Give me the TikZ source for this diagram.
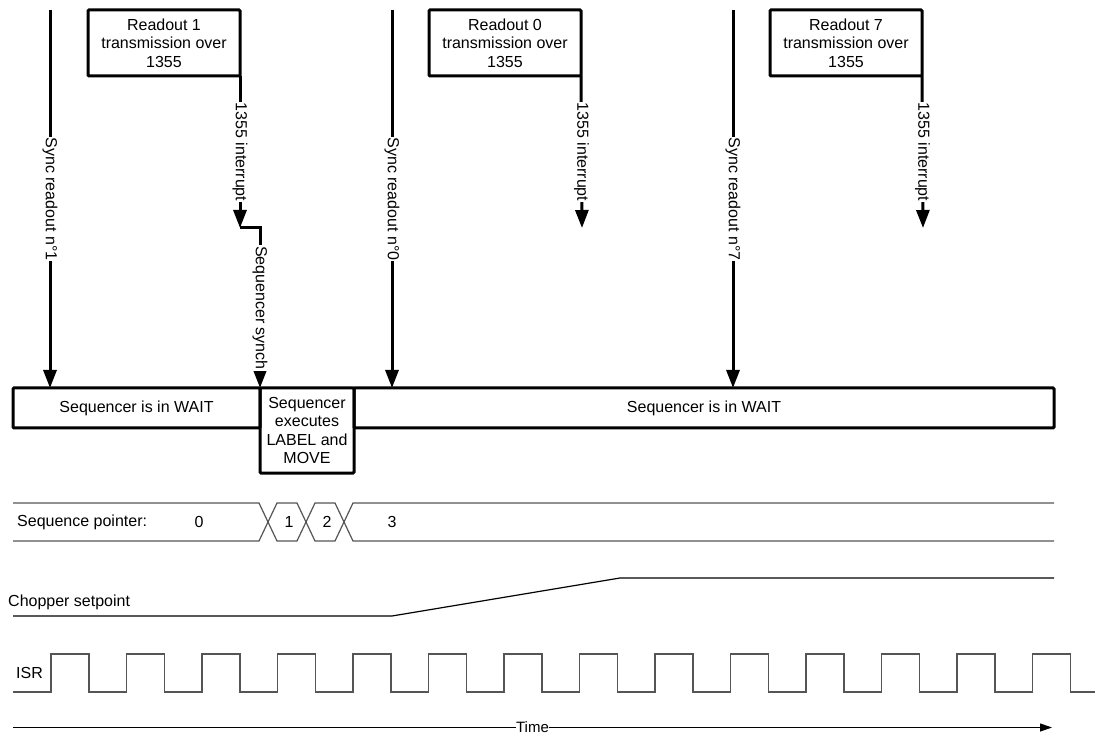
\documentclass[tikz,border=0pt]{standalone}
\usepackage{fontspec}
\setmainfont{Liberation Sans}
\usetikzlibrary{arrows.meta,positioning,calc}
\definecolor{buscol}{RGB}{85,85,85}
\newcommand\diagfont{\fontsize{16}{18.5}\selectfont}
\tikzset{
  rbox/.style={draw, line width=3pt, rounded corners=1pt, minimum width=152pt, minimum height=66pt,
               inner sep=0pt, outer sep=0pt, align=center, font=\diagfont},
  sbox/.style={draw, line width=3pt, rounded corners=1pt, minimum height=40pt,
               inner sep=0pt, outer sep=0pt, align=center, font=\diagfont},
  sig/.style={-{Triangle[length=18pt,width=13pt]}, line width=3pt},
  vlbl/.style={rotate=-90, fill=white, inner sep=1pt, font=\diagfont},
  txt/.style={inner sep=0pt, font=\diagfont},
  bus/.style={draw=buscol, line width=1.2pt},
  wave/.style={draw=buscol, line width=1.2pt},
  timeline/.style={-{Triangle[length=12pt,width=8pt]}, line width=1.2pt},
}
\begin{document}
\begin{tikzpicture}[x=1pt, y=-1pt]
  \useasboundingbox (0,0) rectangle (1096,735);
  % readout transmissions
  \node[rbox] (rd1) at (164,43) {Readout 1\\transmission over\\1355};
  \node[rbox] (rd0) at (505,43) {Readout 0\\transmission over\\1355};
  \node[rbox] (rd7) at (846,43) {Readout 7\\transmission over\\1355};
  % sequencer states
  \node[sbox, minimum width=247pt] (wait1) at (136.5,408) {Sequencer is in WAIT};
  \node[sbox, minimum width=94pt, minimum height=85pt] (exec) at (307,430.5) {Sequencer\\executes\\LABEL and\\MOVE};
  \node[sbox, minimum width=700pt] (wait2) at (704,408) {Sequencer is in WAIT};
  % sync readouts
  \coordinate (s1) at (50,10);
  \coordinate (s0) at (392,10);
  \coordinate (s7) at (733,10);
  \draw[sig] (s1) -- node[vlbl] {Sync readout n°1} (s1 |- wait1.north);
  \draw[sig] (s0) -- node[vlbl] {Sync readout n°0} (s0 |- wait2.north);
  \draw[sig] (s7) -- node[vlbl] {Sync readout n°7} (s7 |- wait2.north);
  % 1355 interrupts
  \coordinate (i1) at (240,228);
  \coordinate (i0) at (582,228);
  \coordinate (i7) at (923,228);
  \draw[sig] (rd1.south east) -- node[vlbl] {1355 interrupt} (i1);
  \draw[sig] (rd0.south east) -- node[vlbl] {1355 interrupt} (i0);
  \draw[sig] (rd7.south east) -- node[vlbl] {1355 interrupt} (i7);
  \draw[sig] (i1) -- ++(20,0) -- node[vlbl] {Sequencer synch} (exec.north west);
  % sequence pointer
  \draw[bus] (13,503) -- (259,503) -- (277,541) -- (297,541) -- (315,503) -- (335,503) -- (353,541) -- (1054,541);
  \draw[bus] (13,541) -- (259,541) -- (277,503) -- (297,503) -- (315,541) -- (335,541) -- (353,503) -- (1054,503);
  \node[txt, anchor=west] (seqlbl) at (17,522) {Sequence pointer:};
  \node[txt] (p0) at (199,522) {0};
  \node[txt] (p1) at (289,522) {1};
  \node[txt] (p2) at (327,522) {2};
  \node[txt] (p3) at (392,522) {3};
  % chopper setpoint
  \node[txt, anchor=west] (choplbl) at (8,602) {Chopper setpoint};
  \draw[line width=1.2pt] (13,616) -- (392,616) -- (620,578) -- (1054,578);
  % ISR
  \node[txt, anchor=west] (isrlbl) at (16,673) {ISR};
  \draw[wave] (13,692) \foreach \k in {0,...,13} { -- ({51+75.5*\k},692) -- ++(0,-38) -- ++(38,0) -- ++(0,38) } -- (1095,692);
  % time axis
  \coordinate (t0) at (13,727.5);
  \coordinate (t1) at (1052,727.5);
  \draw[timeline] (t0) -- node[fill=white, inner sep=0.5pt, font=\fontsize{15}{17}\selectfont] (time) {Time} (t1);
\end{tikzpicture}
\end{document}
